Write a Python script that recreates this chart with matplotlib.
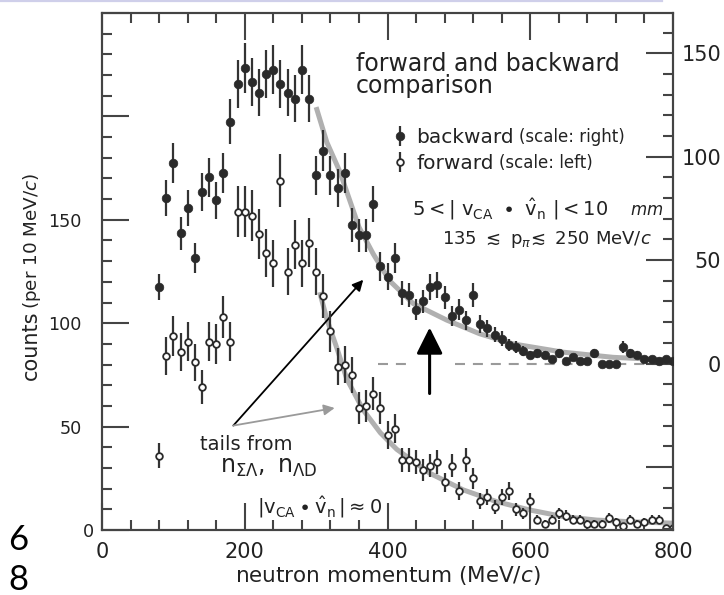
import numpy as np
import matplotlib
matplotlib.use("Agg")
import matplotlib.pyplot as plt
from matplotlib.ticker import MultipleLocator, FuncFormatter
from matplotlib.lines import Line2D
from matplotlib.transforms import ScaledTranslation

# ---------------- data ----------------
momentum = list(range(80, 801, 10))          # bin centres, MeV/c

forward_counts = [36, 84, 94, 86, 91, 81, 69, 91, 90, 103, 91, 154, 154, 152, 143, 134,
                  129, 169, 125, 138, 129, 139, 125, 113, 96, 79, 80, 75, 59, 60, 66, 59,
                  46, 49, 34, 34, 33, 29, 31, 33, 23, 31, 19, 34, 25, 14, 16, 11, 16, 19,
                  10, 8, 14, 5, 3, 5, 8, 7, 5, 5, 3, 3, 3, 6, 4, 2, 5, 3, 4, 5, 5, 1, 1]
forward_err = [6.0, 9.2, 9.7, 9.3, 9.5, 9.0, 8.3, 9.5, 9.5, 10.1, 9.5, 12.4, 12.4, 12.3, 12.0,
               11.6, 11.4, 13.0, 11.2, 11.7, 11.4, 11.8, 11.2, 10.6, 9.8, 8.9, 8.9, 8.7, 7.7,
               7.7, 8.1, 7.7, 6.8, 7.0, 5.8, 5.8, 5.7, 5.4, 5.6, 5.7, 4.8, 5.6, 4.4, 5.8, 5.0,
               3.7, 4.0, 3.3, 4.0, 4.4, 3.2, 2.8, 3.7, 2.2, 1.7, 2.2, 2.8, 2.6, 2.2, 2.2, 1.7,
               1.7, 1.7, 2.4, 2.0, 1.4, 2.2, 1.7, 2.0, 2.2, 2.2, 1.0, 1.0]

backward_counts = [37, 80, 97, 63, 75, 51, 83, 90, 79, 92, 117, 135, 143, 136, 131, 140,
                   142, 135, 131, 128, 142, 128, 91, 103, 91, 85, 92, 67, 62, 62, 77, 47,
                   42, 51, 34, 33, 26, 30, 37, 38, 32, 23, 26, 21, 33, 19, 17, 14, 12, 9,
                   8, 6, 4, 5, 4, 2, 5, 1, 3, 1, 1, 5, 0, 0, 0, 8, 5, 4, 2, 2, 1, 2, 1]
backward_err = [6.1, 8.9, 9.8, 7.9, 8.7, 7.1, 9.1, 9.5, 8.9, 9.6, 10.8, 11.6, 12.0, 11.7, 11.4,
                11.8, 11.9, 11.6, 11.4, 11.3, 11.9, 11.3, 9.5, 10.1, 9.5, 9.2, 9.6, 8.2, 7.9,
                7.9, 8.8, 6.9, 6.5, 7.1, 5.8, 5.7, 5.1, 5.5, 6.1, 6.2, 5.7, 4.8, 5.1, 4.6, 5.7,
                4.4, 4.1, 3.7, 3.5, 3.0, 2.8, 2.4, 2.0, 2.2, 2.0, 1.4, 2.2, 1.0, 1.7, 1.0, 1.0,
                2.2, 0.0, 0.0, 0.0, 2.8, 2.2, 2.0, 1.4, 1.4, 1.0, 1.4, 1.0]

# fitted tails (grey curves)
fwd_fit_p = [305, 315, 330, 343, 366, 390, 413, 459, 506, 553, 599, 646, 693, 740, 800]
fwd_fit_v = [115, 102, 87, 73, 58, 47, 39, 27.5, 19.4, 13.7, 9.7, 6.5, 4.8, 4.0, 3.3]
bwd_fit_p = [300, 315, 333, 360, 380, 403, 436, 483, 529, 576, 646, 716, 800]
bwd_fit_v = [124, 107, 93, 66, 53, 40, 29, 21, 14.4, 9.5, 5.5, 3.0, 1.6]

right_offset = 80.5        # right-hand scale zero sits at 80.5 on the left scale

# ---------------- figure ----------------
W, H = 724, 595
fig = plt.figure(figsize=(W / 100, H / 100), dpi=100)
plt.rcParams["mathtext.fontset"] = "dejavusans"

def fx(px):
    return px / W

def fy(py):
    return 1 - py / H

FRAME = "#444444"
DARK = "#2a2a2a"
GREY = "#b0b0b0"

ax = fig.add_axes([fx(102), fy(530), (673 - 102) / W, (530 - 13) / H])
ax.set_xlim(0, 800)
ax.set_ylim(0, 250)
ax2 = ax.twinx()
ax2.set_ylim(-right_offset, 250 - right_offset)
ax.yaxis.tick_left()

for a in (ax, ax2):
    for s in a.spines.values():
        s.set_color(FRAME)
        s.set_linewidth(1.5)

ax.xaxis.set_major_locator(MultipleLocator(200))
ax.xaxis.set_minor_locator(MultipleLocator(40))
ax.yaxis.set_major_locator(MultipleLocator(50))
ax.yaxis.set_minor_locator(MultipleLocator(10))
ax.yaxis.set_major_formatter(FuncFormatter(lambda v, p: "" if v > 150 else f"{v:.0f}"))
ax.tick_params(axis="x", which="both", direction="in", top=True, bottom=True,
               color=FRAME, width=1.5, labelsize=15, pad=9, labelcolor="#222")
ax.tick_params(axis="x", which="major", length=19.5)
ax.tick_params(axis="x", which="minor", length=7)
ax.tick_params(axis="y", which="both", direction="in", left=True, right=False,
               color=FRAME, width=1.5, labelsize=12.7, pad=14.4, labelcolor="#222")
ax.tick_params(axis="y", which="major", length=19.5)
ax.tick_params(axis="y", which="minor", length=7)

ax2.yaxis.set_major_locator(MultipleLocator(50))
ax2.yaxis.set_minor_locator(MultipleLocator(10))
ax2.yaxis.set_major_formatter(FuncFormatter(lambda v, p: "" if v < 0 else f"{v:.0f}"))
ax2.tick_params(axis="y", which="both", direction="in", right=True, left=False,
                color=FRAME, width=1.5, labelsize=15, pad=34.6, labelcolor="#222")
ax2.tick_params(axis="y", which="major", length=19.5)
ax2.tick_params(axis="y", which="minor", length=7)
for lbl in ax2.get_yticklabels():
    lbl.set_horizontalalignment("right")

ax.set_xlabel("neutron momentum (MeV/$c$)", fontsize=15.5, color="#222", labelpad=1)

# fitted curves
ax.plot(fwd_fit_p, fwd_fit_v, color=GREY, lw=3.6, solid_capstyle="butt", zorder=1)
ax2.plot(bwd_fit_p, bwd_fit_v, color=GREY, lw=3.6, solid_capstyle="butt", zorder=1)

# arrows from the "tails from" label
ax.annotate("", xy=(366, 121), xytext=(184, 50.5),
            arrowprops=dict(arrowstyle="-|>", color="black", lw=1.3,
                            mutation_scale=16, shrinkA=0, shrinkB=0), zorder=1.5)
ax.annotate("", xy=(326, 59), xytext=(184, 50.5),
            arrowprops=dict(arrowstyle="-|>", color="#9a9a9a", lw=1.3,
                            mutation_scale=16, shrinkA=0, shrinkB=0), zorder=1.5)

# data
fwd = ax.errorbar(momentum, forward_counts, yerr=forward_err, fmt="o", ms=4.8,
                  mfc="white", mec=DARK, mew=1.3, ecolor="#333333", elinewidth=1.6,
                  capsize=0, zorder=3)
bwd = ax2.errorbar(momentum, backward_counts, yerr=backward_err, fmt="o", ms=6.2,
                   mfc=DARK, mec=DARK, mew=0.5, ecolor="#333333", elinewidth=1.6,
                   capsize=0, zorder=3)

# dashed zero line of the right scale (interrupted at the arrow)
ax2.plot([387, 427], [0, 0], color="#9a9a9a", lw=1.5, ls=(0, (4.8, 3.8)), zorder=1)
ax2.plot([494, 800], [0, 0], color="#9a9a9a", lw=1.5, ls=(0, (4.8, 3.8)), zorder=1)

# big upward arrow
ax2.annotate("", xy=(459, 17.4), xytext=(459, -14.5),
             arrowprops=dict(arrowstyle="-|>,head_length=0.4,head_width=0.2",
                             color="black", lw=2.2, mutation_scale=40,
                             shrinkA=0, shrinkB=0), zorder=4)

# legend
leg = ax2.legend([bwd, fwd], ["backward", "forward"], loc="center left",
                 bbox_to_anchor=(fx(392), fy(150.5)), bbox_transform=fig.transFigure,
                 frameon=False, fontsize=14.5, handlelength=0.8, handletextpad=0.4,
                 labelspacing=0.35, borderpad=0, borderaxespad=0)
for t in leg.get_texts():
    t.set_color("#222")
ltexts = leg.get_texts()
ax2.annotate("(scale: right)", xy=(1, 0), xycoords=ltexts[0], xytext=(4, 1),
             textcoords="offset points", fontsize=12, va="bottom", color="#222")
ax2.annotate("(scale: left)", xy=(1, 0), xycoords=ltexts[1], xytext=(4, 1),
             textcoords="offset points", fontsize=12, va="bottom", color="#222")

# free text
fig.text(fx(356), fy(93.3), "forward and backward\ncomparison", fontsize=17,
         color="#222", va="baseline", linespacing=0.92)
fig.text(fx(412), fy(215),
         r"$5 <|\ \mathrm{v}_{\mathrm{CA}}\ \bullet\ \hat{\mathrm{v}}_{\mathrm{n}}\ | < 10$",
         fontsize=14, color="#222", va="baseline")
fig.text(fx(630), fy(215), r"$\mathit{mm}$", fontsize=12, color="#222", va="baseline")
fig.text(fx(442), fy(244),
         r"$135\ \lesssim\ \mathrm{p}_{\pi}\!\lesssim\ 250\ \mathrm{MeV}/c$",
         fontsize=13, color="#222", va="baseline")
fig.text(fx(200), fy(450), "tails from", fontsize=14, color="#222", va="baseline")
fig.text(fx(220), fy(473), r"$\mathrm{n}_{\Sigma\Lambda},\ \mathrm{n}_{\Lambda\mathrm{D}}$",
         fontsize=17, color="#222", va="baseline")
fig.text(fx(257), fy(513),
         r"$|\mathrm{v}_{\mathrm{CA}}\bullet\hat{\mathrm{v}}_{\mathrm{n}}\,|\approx 0$",
         fontsize=14, color="#222", va="baseline")

# y label (two sizes)
fig.text(fx(37), fy(380), "counts", fontsize=15, rotation=90, rotation_mode="anchor",
         ha="left", va="baseline", color="#222")
fig.text(fx(37), fy(309), "(per 10 MeV/$c$)", fontsize=13.2, rotation=90,
         rotation_mode="anchor", ha="left", va="baseline", color="#222")

# slide decorations
fig.add_artist(Line2D([0, fx(662)], [fy(1.2), fy(1.2)], transform=fig.transFigure,
                      color="#cfcfea", lw=1.6))
fig.text(fx(8), fy(550), "6", fontsize=25, family="Lato", color="black", va="baseline")
fig.text(fx(8), fy(590), "8", fontsize=25, family="Lato", color="black", va="baseline")

# shift the left "0" label a little to the right as in the original
fig.canvas.draw()
for lbl in ax.get_yticklabels():
    if lbl.get_text() == "0":
        lbl.set_transform(lbl.get_transform() + ScaledTranslation(0.12, 0, fig.dpi_scale_trans))

fig.savefig("out.png", dpi=100)
